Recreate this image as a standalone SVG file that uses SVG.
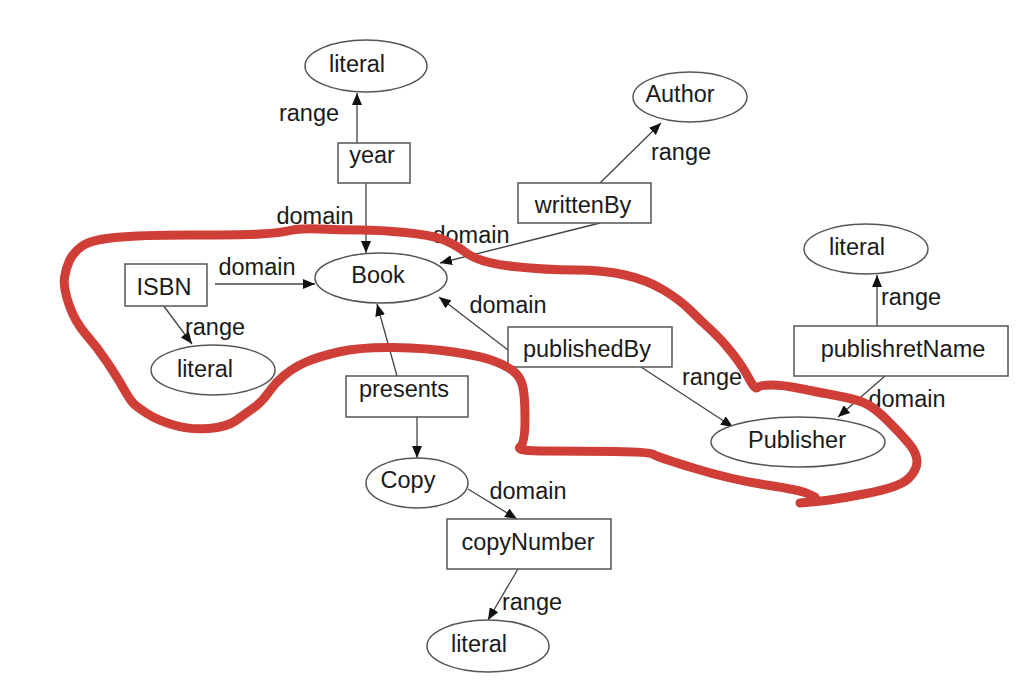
<svg xmlns="http://www.w3.org/2000/svg" width="1033" height="697" viewBox="0 0 1033 697">
<style>
text{font-family:"Liberation Sans",Arial,sans-serif;font-size:23.5px;fill:#1a1a1a;text-anchor:middle}
.n{fill:#fff;stroke:#555;stroke-width:1.5}
.e{stroke:#444;stroke-width:1.3;fill:none;marker-end:url(#ah)}
.red{fill:none;stroke:#cf3f38;stroke-width:9;stroke-linejoin:round;stroke-linecap:round}
</style>
<defs>
<marker id="ah" markerUnits="userSpaceOnUse" markerWidth="12" markerHeight="10" viewBox="0 0 12 10" refX="12" refY="5" orient="auto">
<path d="M0,0 L12,5 L0,10 z" fill="#111"/>
</marker>
</defs>
<rect width="1033" height="697" fill="#fff"/>
<g id="connectors">
<line class="e" x1="357" y1="143" x2="357" y2="93"/>
<line class="e" x1="366" y1="183" x2="366" y2="253"/>
<line class="e" x1="600" y1="223" x2="440" y2="263"/>
<line class="e" x1="600" y1="183" x2="661" y2="123"/>
<line class="e" x1="215" y1="284" x2="315" y2="284"/>
<line class="e" x1="163" y1="305" x2="192" y2="344"/>
<line class="e" x1="397" y1="376" x2="377" y2="304"/>
<line class="e" x1="417" y1="417" x2="417" y2="458"/>
<line class="e" x1="508" y1="350" x2="439" y2="297"/>
<line class="e" x1="641" y1="367" x2="733" y2="427"/>
<line class="e" x1="877" y1="326" x2="877" y2="275"/>
<line class="e" x1="885" y1="376" x2="838" y2="417"/>
<line class="e" x1="468" y1="489" x2="517" y2="519"/>
<line class="e" x1="518" y1="569" x2="488" y2="620"/>
<text x="309" y="121">range</text>
<text x="315" y="224">domain</text>
<text x="471" y="243">domain</text>
<text x="681" y="160">range</text>
<text x="257" y="275">domain</text>
<text x="215" y="335">range</text>
<text x="508" y="313">domain</text>
<text x="712" y="385">range</text>
<text x="907" y="407">domain</text>
<text x="911" y="305">range</text>
<text x="528" y="499">domain</text>
<text x="532" y="610">range</text>
</g>
<g id="literal1"><ellipse class="n" cx="366" cy="66" rx="61" ry="26"/><text x="357" y="72">literal</text></g>
<g id="year"><rect class="n" x="338" y="143" width="72" height="40"/><text x="372" y="163">year</text></g>
<g id="author"><ellipse class="n" cx="690" cy="97" rx="57" ry="25"/><text x="680" y="102">Author</text></g>
<g id="writtenBy"><rect class="n" x="518" y="183" width="133" height="40"/><text x="583" y="213">writtenBy</text></g>
<g id="book"><ellipse class="n" cx="381" cy="278" rx="66" ry="25"/><text x="378" y="283">Book</text></g>
<g id="isbn"><rect class="n" x="125" y="264" width="82" height="42"/><text x="164" y="295">ISBN</text></g>
<g id="literal2"><ellipse class="n" cx="213" cy="370" rx="62" ry="25"/><text x="205" y="377">literal</text></g>
<g id="presents"><rect class="n" x="346" y="376" width="122" height="41"/><text x="404" y="397">presents</text></g>
<g id="publishedBy"><rect class="n" x="508" y="327" width="164" height="40"/><text x="587" y="357">publishedBy</text></g>
<g id="literal3"><ellipse class="n" cx="866" cy="249" rx="62" ry="25"/><text x="857" y="255">literal</text></g>
<g id="publishretName"><rect class="n" x="794" y="326" width="214" height="50"/><text x="903" y="357">publishretName</text></g>
<g id="publisher"><ellipse class="n" cx="798" cy="442" rx="87" ry="25"/><text x="797" y="448">Publisher</text></g>
<g id="copy"><ellipse class="n" cx="417" cy="483" rx="51" ry="25"/><text x="408" y="488">Copy</text></g>
<g id="copyNumber"><rect class="n" x="447" y="519" width="164" height="50"/><text x="528" y="550">copyNumber</text></g>
<g id="literal4"><ellipse class="n" cx="488" cy="646" rx="61" ry="26"/><text x="479" y="652">literal</text></g>
<path class="red" d="M815,497 L807.5,493.5 Q800,490 766.5,485 Q733,480 695,468.5 Q657,457 653.5,454.5 Q650,452 615,451.5 Q580,451 547.5,451 Q515,451 520,447 Q525,443 525,419 Q525,395 522.5,385.5 Q520,376 512.5,370.5 Q505,365 492.5,360.5 Q480,356 453.5,352 Q427,348 393.5,347.5 Q360,347 338.5,352 Q317,357 305,362.5 Q293,368 284,375.5 Q275,383 268.5,392.5 Q262,402 253.5,408 Q245,414 236,420.5 Q227,427 208.5,428.5 Q190,430 173.5,425 Q157,420 147,413.5 Q137,407 133.5,403.5 Q130,400 123.5,388.5 Q117,377 107,362 Q97,347 86,334.5 Q75,322 69,304.5 Q63,287 64.5,277.5 Q66,268 69.5,260.5 Q73,253 81.5,246.5 Q90,240 115,237.5 Q140,235 190,235 Q240,235 260,234 Q280,233 290,230.5 Q300,228 320,229 Q340,230 360,230 Q380,230 405,232.5 Q430,235 441.5,239 Q453,243 466.5,253 Q480,263 513.5,266.5 Q547,270 575,270 Q603,270 625,275 Q647,280 663.5,290 Q680,300 690,310 Q700,320 711,330 Q722,340 732.5,353.5 Q743,367 749,378.5 Q755,390 757.5,387.5 Q760,385 771.5,385 Q783,385 800,388.5 Q817,392 838.5,396 Q860,400 868.5,405 Q877,410 888.5,421.5 Q900,433 908.5,443 Q917,453 917,461.5 Q917,470 908.5,478.5 Q900,487 866.5,493.5 Q833,500 816.5,501.5 L800,503"/>
</svg>
